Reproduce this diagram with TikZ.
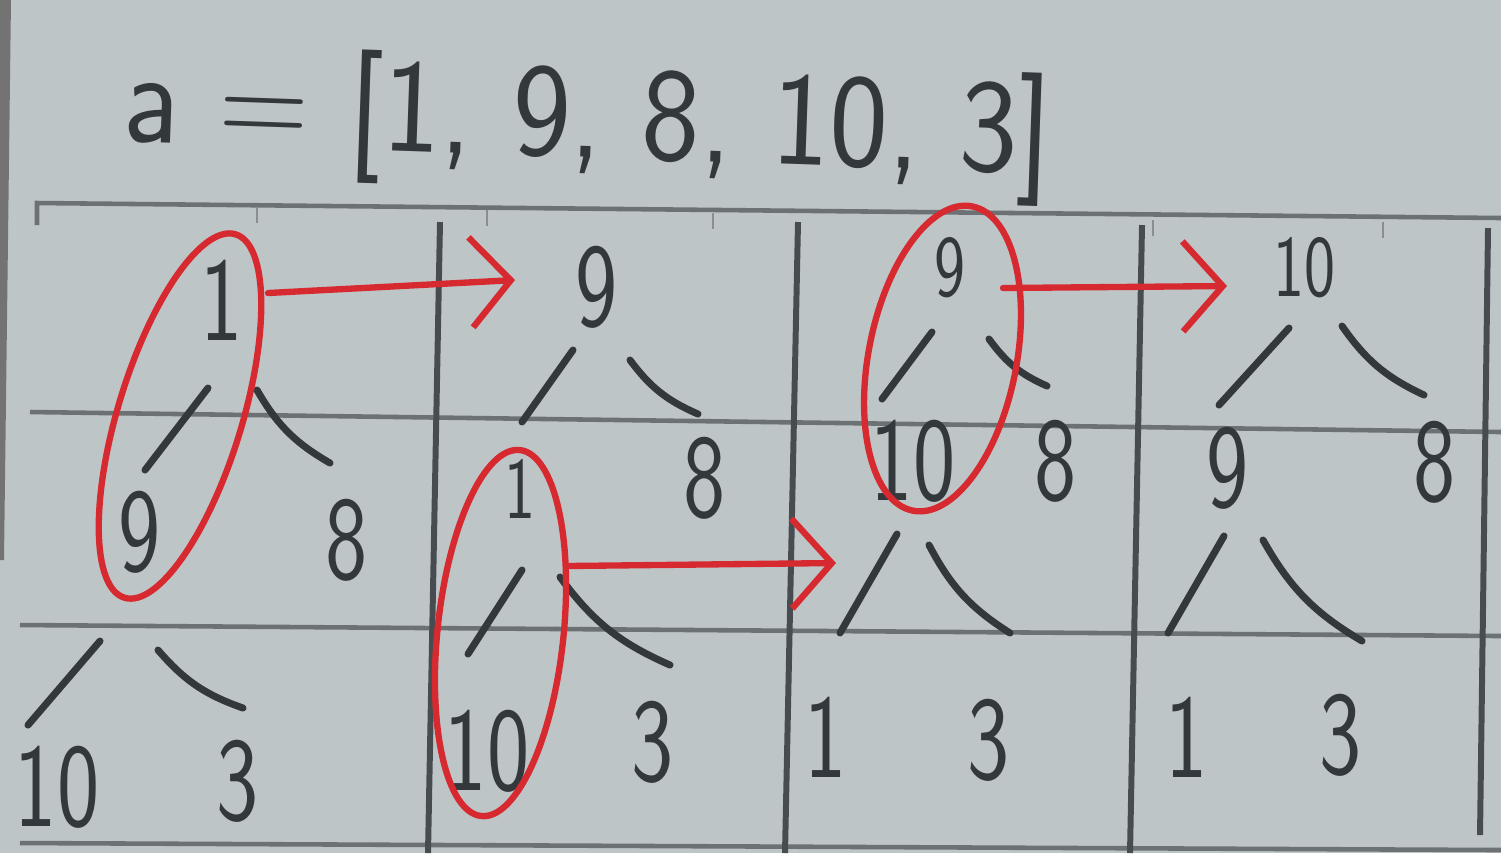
\documentclass[tikz,border=0pt]{standalone}
\usepackage{fontspec}
\usepackage{graphicx}
\usetikzlibrary{arrows.meta, calc}

\definecolor{paper}{RGB}{190,197,199}
\definecolor{pencil}{RGB}{50,56,60}
\definecolor{ruling}{RGB}{108,114,116}
\definecolor{marker}{RGB}{214,42,48}

\newcommand{\narrow}[2][0.75]{\scalebox{#1}[1]{#2}}

\begin{document}
\begin{tikzpicture}[
		x=0.01cm, y=-0.01cm,
		num/.style={font=\sffamily\fontsize{34}{34}\selectfont, text=pencil, inner sep=0pt},
		smallnum/.style={num, font=\sffamily\fontsize{25}{25}\selectfont},
		edge/.style={draw=pencil, line width=2pt, line cap=round},
		hline/.style={draw=ruling, line width=1.3pt},
		vline/.style={draw=pencil!90, line width=1.7pt},
		tick/.style={draw=ruling!80, line width=0.8pt},
		ring/.style={draw=marker, line width=1.8pt},
		move/.style={draw=marker, line width=1.8pt, line cap=round, -{Straight Barb[length=4mm, width=9mm]}}
		]
		
		% paper
		\fill[paper] (0,0) rectangle (1501,853);
		\useasboundingbox (0,0) rectangle (1501,853);
		\fill[black!55] (0,0) -- (11,0) -- (4,560) -- (0,560) -- cycle;
		
		% title
		\node[num, font=\sffamily\fontsize{38}{38}\selectfont, rotate=-2] (title) at (588,124) {\narrow[0.93]{a = [1, 9, 8, 10, 3]}};
		
		% ruled lines
		\draw[hline] (37,225) -- (37,203) -- (1501,218);
		\draw[hline] (30,412) -- (1501,432);
		\draw[hline] (20,625) -- (1501,636);
		\draw[hline] (20,843) -- (1501,850);
		\foreach \x/\y in {257/207, 487/210, 713/213, 1153/220, 1383/222}
		\draw[tick] (\x,\y) -- (\x,\y+16);
		\draw[vline] (440,222) -- (428,853);
		\draw[vline] (798,222) -- (785,853);
		\draw[vline] (1142,225) -- (1130,853);
		\draw[vline] (1488,228) -- (1480,835);
		
		% 1. first tree
		\node[num] (p1a) at (222,300) {\narrow{1}};
		\node[num] (p1b) at (140,532) {\narrow{9}};
		\node[num] (p1c) at (347,540) {\narrow{8}};
		\node[num] (p1d) at (57,787) {\narrow{10}};
		\node[num] (p1e) at (238,781) {\narrow{3}};
		\draw[edge] ($(p1a)+(-14,88)$) -- ($(p1b)+(5,-62)$);
		\draw[edge] ($(p1a)+(35,90)$) to[bend right=15] ($(p1c)+(-17,-77)$);
		\draw[edge] ($(p1b)+(-40,109)$) -- ($(p1d)+(-29,-62)$);
		\draw[edge] ($(p1b)+(18,118)$) to[bend right=15] ($(p1e)+(5,-73)$);
		
		% 2. second tree
		\node[num] (p2a) at (597,287) {\narrow{9}};
		\node[smallnum] (p2b) at (520,489) {\narrow{1}};
		\node[num] (p2c) at (705,478) {\narrow{8}};
		\node[num] (p2d) at (487,751) {\narrow{10}};
		\node[num] (p2e) at (653,742) {\narrow{3}};
		\draw[edge] ($(p2a)+(-24,63)$) -- ($(p2b)+(2,-67)$);
		\draw[edge] ($(p2a)+(33,73)$) to[bend right=15] ($(p2c)+(-7,-64)$);
		\draw[edge] ($(p2b)+(2,81)$) -- ($(p2d)+(-19,-97)$);
		\draw[edge] ($(p2b)+(40,88)$) to[bend right=15] ($(p2e)+(17,-77)$);
		
		% 3. third tree
		\node[smallnum] (p3a) at (950,268) {\narrow{9}};
		\node[num] (p3b) at (913,461) {\narrow{10}};
		\node[num] (p3c) at (1056,461) {\narrow{8}};
		\node[num] (p3d) at (826,737) {\narrow{1}};
		\node[num] (p3e) at (989,740) {\narrow{3}};
		\draw[edge] ($(p3a)+(-18,64)$) -- ($(p3b)+(-31,-62)$);
		\draw[edge] ($(p3a)+(39,71)$) to[bend right=15] ($(p3c)+(-9,-75)$);
		\draw[edge] ($(p3b)+(-16,73)$) -- ($(p3d)+(14,-104)$);
		\draw[edge] ($(p3b)+(16,84)$) to[bend right=15] ($(p3e)+(21,-107)$);
		
		% 4. fourth tree
		\node[smallnum] (p4a) at (1304,268) {\narrow{10}};
		\node[num] (p4b) at (1228,468) {\narrow{9}};
		\node[num] (p4c) at (1435,462) {\narrow{8}};
		\node[num] (p4d) at (1187,737) {\narrow{1}};
		\node[num] (p4e) at (1341,735) {\narrow{3}};
		\draw[edge] ($(p4a)+(-15,60)$) -- ($(p4b)+(-9,-63)$);
		\draw[edge] ($(p4a)+(38,58)$) to[bend right=15] ($(p4c)+(-11,-67)$);
		\draw[edge] ($(p4b)+(-4,68)$) -- ($(p4d)+(-19,-104)$);
		\draw[edge] ($(p4b)+(35,72)$) to[bend right=15] ($(p4e)+(21,-94)$);
		
		% red marks: swapped pairs
		\coordinate (e1) at ($(p1a)!.5!(p1b)+(-1,0)$);
		\coordinate (e2) at ($(p2b)!.5!(p2d)+(-3,13)$);
		\coordinate (e3) at ($(p3a)!.5!(p3b)+(11,-6)$);
		\draw[ring, rotate around={-17:(e1)}] (e1) ellipse [x radius=62, y radius=190];
		\draw[ring, rotate around={-6:(e2)}] (e2) ellipse [x radius=63, y radius=184];
		\draw[ring, rotate around={-11:(e3)}] (e3) ellipse [x radius=74, y radius=155];
		
		\coordinate (m1s) at (268,293);
		\coordinate (m1e) at (515,280);
		\coordinate (m2s) at (566,566);
		\coordinate (m2e) at (836,563);
		\coordinate (m3s) at (1003,288);
		\coordinate (m3e) at (1227,286);
		\draw[move] (m1s) -- (m1e);
		\draw[move] (m2s) -- (m2e);
		\draw[move] (m3s) -- (m3e);
	\end{tikzpicture}
\end{document}
